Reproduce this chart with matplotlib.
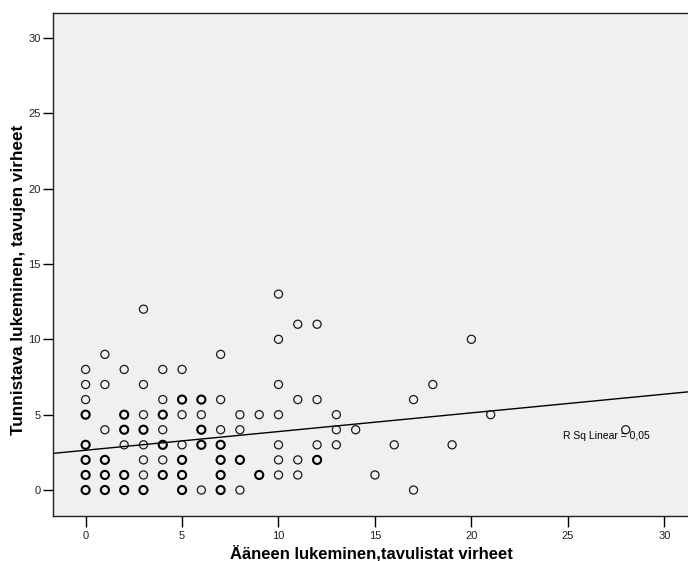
import matplotlib
matplotlib.use("Agg")
import matplotlib.pyplot as plt
import numpy as np

plt.rcParams['font.family'] = ['Liberation Sans', 'DejaVu Sans']

# Data (x = Ääneen lukeminen, y = Tunnistava lukeminen); overlap 1 = single, 2 = overplotted (bold)
x_vals = [0, 0, 0, 0, 0, 0, 0, 0,
          1, 1, 1, 1, 1, 1,
          2, 2, 2, 2, 2, 2,
          3, 3, 3, 3, 3, 3, 3, 3,
          4, 4, 4, 4, 4, 4, 4,
          5, 5, 5, 5, 5, 5, 5,
          6, 6, 6, 6, 6,
          7, 7, 7, 7, 7, 7, 7,
          8, 8, 8, 8,
          9, 9,
          10, 10, 10, 10, 10, 10, 10,
          11, 11, 11, 11,
          12, 12, 12, 12,
          13, 13, 13,
          14, 15, 16, 17, 17, 18, 19, 20, 21, 28]
y_vals = [8, 7, 6, 5, 3, 2, 1, 0,
          9, 7, 4, 2, 1, 0,
          8, 3, 5, 4, 1, 0,
          12, 7, 5, 3, 2, 1, 4, 0,
          8, 6, 4, 2, 5, 3, 1,
          8, 5, 3, 6, 2, 1, 0,
          5, 0, 6, 4, 3,
          9, 6, 4, 3, 2, 1, 0,
          5, 4, 0, 2,
          5, 1,
          13, 10, 7, 5, 3, 2, 1,
          11, 6, 2, 1,
          11, 6, 3, 2,
          5, 4, 3,
          4, 1, 3, 6, 0, 7, 3, 10, 5, 4]
overlap = [1, 1, 1, 2, 2, 2, 2, 2,
           1, 1, 1, 2, 2, 2,
           1, 1, 2, 2, 2, 2,
           1, 1, 1, 1, 1, 1, 2, 2,
           1, 1, 1, 1, 2, 2, 2,
           1, 1, 1, 2, 2, 2, 2,
           1, 1, 2, 2, 2,
           1, 1, 1, 2, 2, 2, 2,
           1, 1, 1, 2,
           1, 2,
           1, 1, 1, 1, 1, 1, 1,
           1, 1, 1, 1,
           1, 1, 1, 2,
           1, 1, 1,
           1, 1, 1, 1, 1, 1, 1, 1, 1, 1]

fit_intercept = 2.64
fit_slope = 0.124
r_sq_label = "R Sq Linear = 0,05"

x_ticks = [0, 5, 10, 15, 20, 25, 30]
y_ticks = [0, 5, 10, 15, 20, 25, 30]
x_label = "Ääneen lukeminen,tavulistat virheet"
y_label = "Tunnistava lukeminen, tavujen virheet"

fig = plt.figure(figsize=(6.88, 5.61), dpi=100)
ax = fig.add_axes([53/688, 1 - 515.5/561, 1 - 53/688 + 0.002, (515.5 - 13)/561])
ax.set_facecolor('#F0F0F0')

x_arr = np.array(x_vals)
y_arr = np.array(y_vals)
ov = np.array(overlap)

ax.scatter(x_arr[ov == 1], y_arr[ov == 1], s=34, facecolors='none',
           edgecolors='#1a1a1a', linewidths=0.9, zorder=3)
ax.scatter(x_arr[ov == 2], y_arr[ov == 2], s=34, facecolors='none',
           edgecolors='black', linewidths=1.5, zorder=3)

xlim = (-1.69, 31.3)
ax.set_xlim(xlim)
ax.set_ylim(-1.69, 31.65)
xl = np.array(xlim)
ax.plot(xl, fit_intercept + fit_slope * xl, color='black', lw=1.0, zorder=2)

ax.text(24.75, 3.6, r_sq_label, fontsize=7.5, va='center', ha='left', zorder=4)

ax.set_xticks(x_ticks)
ax.set_yticks(y_ticks)
ax.tick_params(axis='x', direction='out', length=8, width=1, labelsize=8, pad=3,
               labelcolor='#222222')
ax.tick_params(axis='y', direction='out', length=7, width=1, labelsize=8, pad=2,
               labelcolor='#222222')
for s in ['left', 'bottom', 'top']:
    ax.spines[s].set_color('#222222')
    ax.spines[s].set_linewidth(1.0)
ax.spines['right'].set_visible(False)

ax.set_xlabel(x_label, fontsize=12, fontweight='bold', va='center')
ax.xaxis.set_label_coords(0.5, (515.5 - 553) / 502.5)
ax.set_ylabel(y_label, fontsize=12.3, fontweight='bold', va='center')
ax.yaxis.set_label_coords((19 - 53) / 635, (515.5 - 280) / 502.5)

fig.savefig("out.png", dpi=100, facecolor='white')
